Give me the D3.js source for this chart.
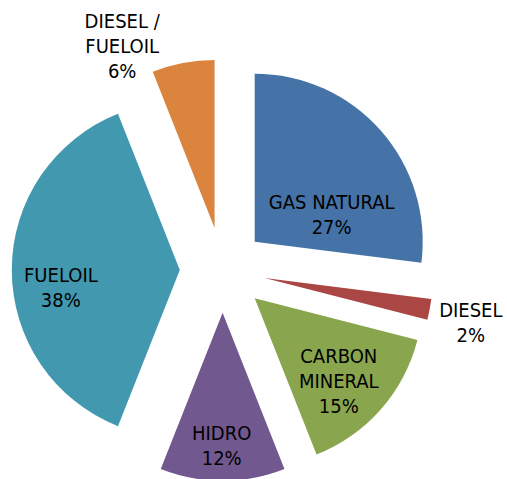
<!DOCTYPE html>
<html>
<head>
<meta charset="utf-8">
<script src="https://cdn.jsdelivr.net/npm/d3@7"></script>
<style>
  html, body { margin: 0; padding: 0; background: #ffffff; }
  svg { display: block; }
</style>
</head>
<body>
<svg id="chart" width="507" height="479"></svg>
<script>
// ---- data ----
const categories = ["GAS NATURAL", "DIESEL", "CARBON MINERAL", "HIDRO", "FUELOIL", "DIESEL / FUELOIL"];
const values = [27, 2, 15, 12, 38, 6];
const percentLabels = ["27%", "2%", "15%", "12%", "38%", "6%"];
const labelLines = [["GAS NATURAL"], ["DIESEL"], ["CARBON", "MINERAL"], ["HIDRO"], ["FUELOIL"], ["DIESEL /", "FUELOIL"]];
const colors = ["#4572A7", "#AA4643", "#89A54E", "#71588F", "#4198AF", "#DB843D"];

// ---- layout ----
const width = 507, height = 479;
const cx = 222.6, cy = 270;
const radius = 168;
const explode = 42.8;
const lineHeight = 25;
const capHeight = 14.5;
// label anchor in polar coords around the pie centre: [distance, angle in degrees]
const labelPolar = [[122.6, 62.8], [253.6, 101.8], [160.7, 133.7], [175.5, 180.3], [162.7, 263.8], [246, 335.9]];

const svg = d3.select("#chart");
const g = svg.append("g").attr("transform", `translate(${cx},${cy})`);

const data = categories.map((c, i) => ({ name: c, value: values[i], i }));
const pie = d3.pie().sort(null).value(d => d.value).startAngle(0).endAngle(2 * Math.PI);
const arcs = pie(data);
const arc = d3.arc().innerRadius(0).outerRadius(radius);
const color = d3.scaleOrdinal().domain(categories).range(colors);

g.selectAll("path.slice")
  .data(arcs)
  .join("path")
  .attr("class", "slice")
  .attr("d", arc)
  .attr("fill", d => color(d.data.name))
  .attr("transform", d => {
    const mid = (d.startAngle + d.endAngle) / 2;
    const [x, y] = d3.pointRadial(mid, explode);
    return `translate(${x},${y})`;
  });

const labels = g.selectAll("text.lbl")
  .data(arcs)
  .join("text")
  .attr("class", "lbl")
  .attr("text-anchor", "middle")
  .attr("font-family", "'DejaVu Sans Condensed', 'DejaVu Sans', sans-serif")
  .attr("font-stretch", "condensed")
  .attr("font-size", 20)
  .attr("fill", "#000");

labels.each(function(d) {
  const i = d.data.i;
  const [r, deg] = labelPolar[i];
  const [x, y] = d3.pointRadial(deg * Math.PI / 180, r);
  const lines = labelLines[i].concat([percentLabels[i]]);
  const n = lines.length;
  const y0 = y + capHeight / 2 - (n - 1) * lineHeight / 2;
  d3.select(this).selectAll("tspan")
    .data(lines)
    .join("tspan")
    .attr("x", x)
    .attr("y", (t, k) => y0 + k * lineHeight)
    .text(t => t);
});
</script>
</body>
</html>
